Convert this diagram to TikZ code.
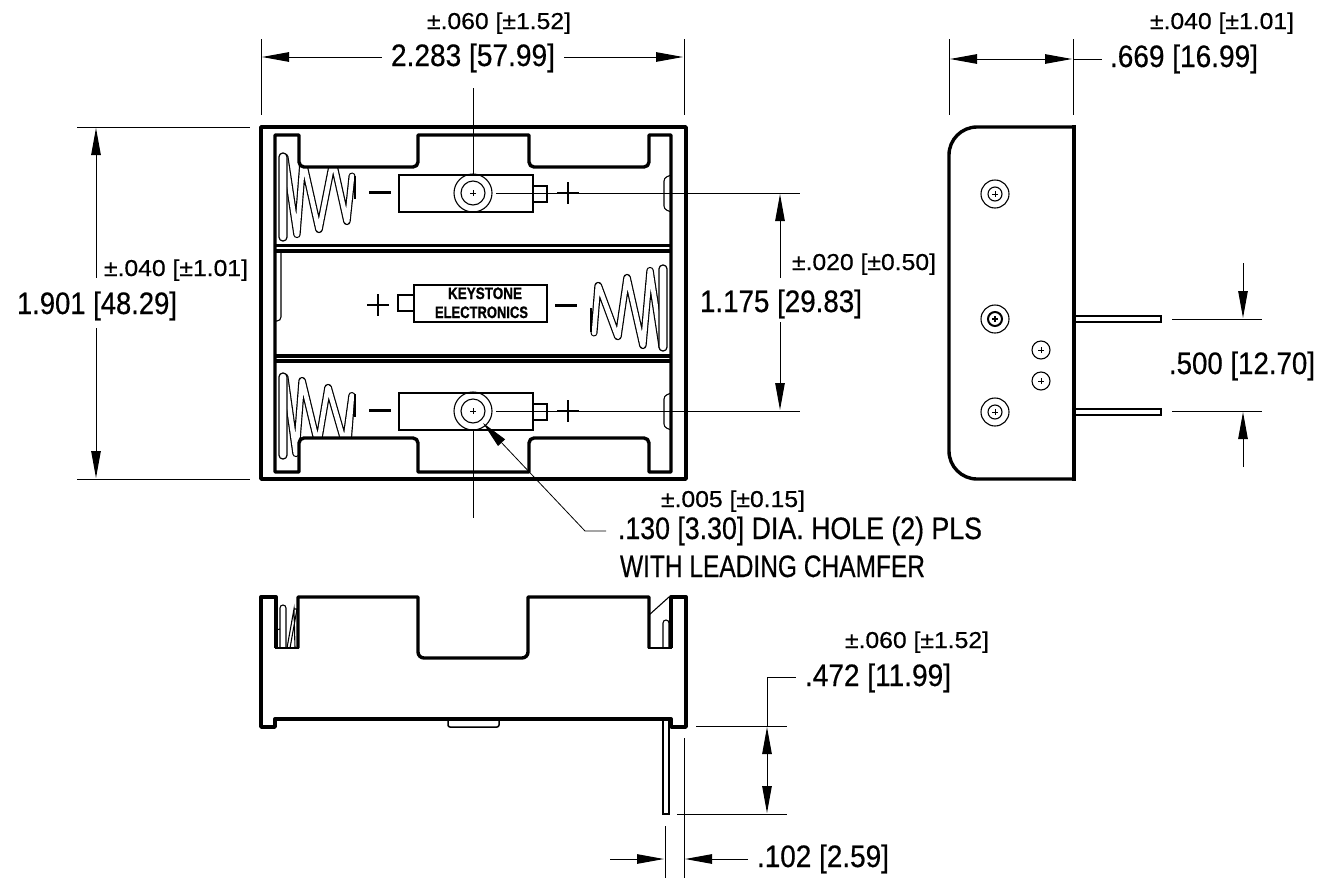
\documentclass[tikz,border=0pt]{standalone}
\usepackage{fontspec}
\setmainfont[RawFeature={embolden=0.5}]{Liberation Sans}
\newfontfamily\logofont[RawFeature={embolden=1.2}]{Liberation Sans Bold}
\usetikzlibrary{arrows.meta}
\newcommand\fitw[2]{\resizebox{#1pt}{\height}{#2}}
\newcommand\crosshair[2]{\draw[hair] (#1-3,#2)--(#1+3,#2) (#1,#2-3)--(#1,#2+3);}
\newcommand\signplus[2]{\draw[signline] (#1-11,#2)--(#1+11,#2) (#1,#2-11)--(#1,#2+11);}
\tikzset{
  x=1pt,y=-1pt,
  wall/.style={line width=3.4pt,line join=round},
  part/.style={line width=1.5pt},
  fine/.style={line width=1.1pt},
  hair/.style={line width=0.8pt},
  signline/.style={line width=2.6pt},
  dimline/.style={line width=1pt,-},
  wire/.style={line width=1.2pt,double=white,double distance=4.6pt,line join=round,line cap=round,rounded corners=1.5pt},
  pill/.style={line width=1.2pt,fill=white,rounded corners=3.8pt},
  tipped/.style={line width=1pt,>={Triangle[length=27pt,width=9.5pt]}},
  big/.style={inner sep=0pt,anchor=base,font=\fontsize{31}{31}\selectfont},
  tol/.style={inner sep=0pt,anchor=base,font=\fontsize{23}{23}\selectfont},
  logo/.style={inner sep=0pt,anchor=base,font=\fontsize{16.5}{16.5}\logofont},
}
\begin{document}
\begin{tikzpicture}
\useasboundingbox[fill=white] (0,0) rectangle (1342,884);

% ---------- springs of the top view
\draw[wire] (285,157)--(297,236)--(303,160)--(319,231)--(333,160)--(347,223)--(352,176);
\draw[pill] (279,153) rectangle (287,241);
\draw[line width=2.4pt] (355,176)--(355,199);

\draw[wire] (285,377)--(296,455)--(302,379)--(318,445)--(328,386)--(345,445)--(352,394)--(348,445);
\draw[pill] (279,373) rectangle (287,459);
\draw[line width=2.4pt] (355,394)--(355,417);

\draw[wire] (662,347)--(650,269)--(643,347)--(627,276)--(618,338)--(598,284)--(594,333);
\draw[pill] (659,265) rectangle (667,351);
\draw[line width=2.4pt] (591,308)--(591,332);

% masks where the walls hide the springs
\fill[white] (299,137) rectangle (413,166);
\fill[white] (299,439) rectangle (413,470);

% ---------- top view
\draw[wall] (261,127) rectangle (686,479);
\draw[wall] (275,135) -- (299,135) [rounded corners=5pt] -- (299,167) -- (418,167) [sharp corners] -- (418,135) -- (529,135)
  [rounded corners=5pt] -- (529,167) -- (649,167) [sharp corners] -- (649,135) -- (671,135) -- (671,472) -- (649,472)
  [rounded corners=5pt] -- (649,438) -- (529,438) [sharp corners] -- (529,472) -- (418,472)
  [rounded corners=5pt] -- (418,438) -- (299,438) [sharp corners] -- (299,472) -- (275,472) -- cycle;
\draw[wall] (275,245.5)--(671,245.5) (275,251)--(671,251) (275,356)--(671,356) (275,361)--(671,361);

% terminals, upper bay
\draw[part] (399,175) rectangle (533,212);
\draw[part] (533,186) rectangle (547,202);
\draw[fine] (473,193) circle[radius=19] (473,193) circle[radius=12];
\crosshair{473}{193}
\draw[line width=3pt] (369,192)--(391,192);
\signplus{568}{193}
\draw[fine,rounded corners=3pt] (671,175)--(664,178)--(664,209)--(671,212);

% terminals, lower bay
\draw[part] (399,393) rectangle (533,430);
\draw[part] (533,404) rectangle (547,420);
\draw[fine] (473,411) circle[radius=19] (473,411) circle[radius=12];
\crosshair{473}{411}
\draw[line width=3pt] (369,410)--(391,410);
\signplus{568}{411}
\draw[fine,rounded corners=3pt] (671,393)--(664,396)--(664,427)--(671,430);

% terminal, middle bay
\draw[part] (414,285) rectangle (547,322);
\draw[part] (414,295)--(398,295)--(398,311)--(414,311);
\signplus{378}{305}
\draw[line width=3pt] (555,305)--(577,305);
\draw[fine,rounded corners=4pt] (281,251)--(281,321)--(276,321);
\node[logo] (keystone) at (485,299) {\fitw{74}{KEYSTONE}};
\node[logo] (electronics) at (481.5,318) {\fitw{93}{ELECTRONICS}};

% centre lines
\draw[dimline] (473,88)--(473,175);
\draw[dimline] (473,430)--(473,518);
\draw[dimline] (496,193)--(800,193);
\draw[dimline] (496,411)--(800,411);

% ---------- side view
\draw[wall,rounded corners=28pt] (1074,127) -- (949,127) -- (949,479) -- (1074,479);
\draw[wall] (1074,125.4)--(1074,480.6);
\foreach \yy in {194,412}{
  \draw[fine] (995,\yy) circle[radius=14] (995,\yy) circle[radius=7];
  \crosshair{995}{\yy}
}
\draw[fine] (995,319) circle[radius=14];
\draw[line width=2pt] (995,319) circle[radius=7];
\draw[line width=1.4pt] (992,319)--(998,319) (995,316)--(995,322);
\foreach \yy in {350,381}{
  \draw[fine] (1041,\yy) circle[radius=9];
  \crosshair{1041}{\yy}
}
\draw[part] (1075,316) rectangle (1161,322);
\draw[part] (1075,409) rectangle (1161,415);

% ---------- front view
\draw[wall] (276,648) -- (276,597) -- (261,597) -- (261,727) -- (275,727) -- (275,719) -- (671,719) -- (671,727) -- (686,727) -- (686,597) -- (671,597) -- (671,648);
\draw[wall] (298,648) -- (298,597) -- (418,597) [rounded corners=6pt] -- (418,658) -- (528,658) [sharp corners] -- (528,597) -- (649,597) -- (649,648);
\draw[part] (275,648)--(299,648) (648,648)--(672,648);
\draw[part,rounded corners=2pt] (448,720)--(448,727)--(499,727)--(499,720);
\draw[part,fill=white] (663,720) rectangle (669,814);
\draw[fine] (649,615)--(669,597);
\draw[fine,rounded corners=3pt] (663,648)--(663,620)--(669,620)--(669,648);
\draw[fine,rounded corners=3pt] (280,648)--(280,605)--(286,605)--(286,648);
\draw[fine] (276,630)--(280,629) (287,648)--(294,609)--(295,648) (290,648)--(297,609) (294,609)--(297,609);

% ---------- dimensions
\draw[dimline] (261,39)--(261,115) (684,39)--(684,115);
\draw[tipped,<-] (262,57)--(382,57);
\draw[tipped,->] (564,57)--(683,57);
\node[tol] (t1) at (499,29) {\fitw{144}{±.060 [±1.52]}};
\node[big] (d1) at (473,66) {\fitw{164}{2.283 [57.99]}};

\draw[dimline] (949,39)--(949,115) (1073,39)--(1073,115);
\draw[tipped,<->] (950,59)--(1072,59);
\draw[dimline] (1073,59)--(1102,59);
\node[tol] (t2) at (1222,29) {\fitw{144}{±.040 [±1.01]}};
\node[big] (d2) at (1184,67) {\fitw{148}{.669 [16.99]}};

\draw[dimline] (77,127)--(250,127) (77,479)--(250,479);
\draw[tipped,<-] (96,128)--(96,278);
\draw[tipped,->] (96,328)--(96,478);
\node[tol] (t3) at (176,276) {\fitw{144}{±.040 [±1.01]}};
\node[big] (d3) at (97,314) {\fitw{160}{1.901 [48.29]}};

\draw[tipped,<-] (780,194)--(780,278);
\draw[tipped,->] (780,322)--(780,410);
\node[tol] (t4) at (864,270) {\fitw{144}{±.020 [±0.50]}};
\node[big] (d4) at (781,312) {\fitw{162}{1.175 [29.83]}};

\draw[dimline] (1172,319)--(1262,319) (1172,411)--(1262,411);
\draw[tipped,->] (1243,263)--(1243,318);
\draw[tipped,->] (1243,467)--(1243,412);
\node[big] (d5) at (1242,374) {\fitw{146}{.500 [12.70]}};

\draw[tipped,<-,line width=0.8pt] (483,423)--(585,531)--(606,531);
\node[tol] (t6) at (733,507) {\fitw{144}{±.005 [±0.15]}};
\node[big] (d6) at (800,539) {\fitw{364}{.130 [3.30] DIA. HOLE (2) PLS}};
\node[big] (d7) at (772.5,577) {\fitw{305}{WITH LEADING CHAMFER}};

\draw[dimline] (696,726)--(787,726) (677,814)--(787,814);
\draw[tipped,<->] (767,727)--(767,813);
\draw[dimline] (767,726)--(767,677)--(796,677);
\node[tol] (t8) at (917,648) {\fitw{144}{±.060 [±1.52]}};
\node[big] (d8) at (878,686) {\fitw{146}{.472 [11.99]}};

\draw[dimline] (665,826)--(665,878) (684,738)--(684,878);
\draw[tipped,->] (610,859)--(664,859);
\draw[tipped,->] (748,859)--(685,859);
\node[big] (d9) at (823,867) {\fitw{132}{.102 [2.59]}};
\end{tikzpicture}
\end{document}
